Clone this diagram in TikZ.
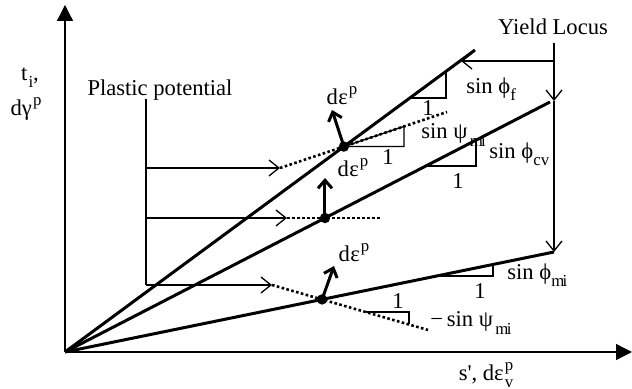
\documentclass[tikz,border=0pt]{standalone}
\usepackage{fontspec}
\setmainfont{Liberation Serif}
\usetikzlibrary{arrows.meta,calc}
\newcommand\tsub[1]{\raisebox{-0.32em}{\fontsize{8.4}{9}\selectfont #1}}
\newcommand\tsup[1]{\raisebox{0.45em}{\fontsize{8.4}{9}\selectfont #1}}
\newcommand\depsp{d\kern0.02em ε\kern0.05em\tsup{p}}
\newcommand\mysin{sin\kern0.25em }
\begin{document}
\begin{tikzpicture}[x=0.5pt,y=-0.5pt,
  thinline/.style={line width=0.65pt},
  boldline/.style={line width=1.5pt},
  dotline/.style={line width=1.3pt, dash pattern=on 1.3pt off 1.2pt},
  openarrow/.style={-{Straight Barb[length=5pt,width=8pt]}},
  axisarrow/.style={thinline,-{Triangle[length=8pt,width=8pt]}},
  strainarrow/.style={boldline,-{Straight Barb[length=4pt,width=7pt]}},
  lbl/.style={font=\fontsize{11.3}{13}\selectfont, inner sep=0pt},
  dot/.style={fill=black}
]
\useasboundingbox (0,0) rectangle (632,389);

% axes
\coordinate (O) at (65,352);
\coordinate (Ytop) at (65,5);
\coordinate (Xend) at (632,352);
\draw[axisarrow] (O) -- (Ytop);
\draw[axisarrow] (O) -- (Xend);

% lines
\coordinate (F) at (475,50);
\coordinate (CV) at (550,102);
\coordinate (MI) at (554,252);
\draw[boldline] (O) -- (F);
\draw[boldline] (O) -- (CV);
\draw[boldline] (O) -- (MI);

% yield locus
\node[lbl] (yl) at (553,27) {Yield Locus};
\coordinate (YT) at (554,43);
\coordinate (YH) at (554,61);
\coordinate (YA) at (554,101);
\coordinate (FH) at (461,61);
\draw[thinline,openarrow] (YT) -- (YA);
\draw[thinline,openarrow] (YA) -- (MI);
\draw[thinline,openarrow] (YH) -- (FH);

% plastic potential
\node[lbl] (pp) at (160,90) {Plastic potential};
\coordinate (PT) at (146,99);
\coordinate (PA) at (146,168);
\coordinate (PB) at (146,218);
\coordinate (PC) at (146,285);
\coordinate (D1a) at (280,168);
\coordinate (D1b) at (447,112);
\coordinate (D2a) at (287,218);
\coordinate (D2b) at (380,218);
\coordinate (D3a) at (272,285);
\coordinate (D3b) at (428,330);
\draw[thinline] (PT) -- (PC);
\draw[thinline,openarrow] (PA) -- (D1a);
\draw[thinline,openarrow] (PB) -- (D2a);
\draw[thinline,openarrow] (PC) -- (D3a);
\draw[dotline] (D1a) -- (D1b);
\draw[dotline] (D2a) -- (D2b);
\draw[dotline] (D3a) -- (D3b);

% points
\coordinate (P1) at (intersection of O--F and D1a--D1b);
\coordinate (P2) at (intersection of O--CV and D2a--D2b);
\coordinate (P3) at (intersection of O--MI and D3a--D3b);
\fill[dot] (P1) circle[radius=2.6pt];
\fill[dot] (P2) circle[radius=2.6pt];
\fill[dot] (P3) circle[radius=2.6pt];

% strain increment arrows
\coordinate (A1) at (332,110);
\coordinate (A2) at ($(P2)+(0,-40)$);
\coordinate (A3) at (334,266);
\draw[strainarrow] (P1) -- (A1);
\draw[strainarrow] (P2) -- (A2);
\draw[strainarrow] (P3) -- (A3);
\node[lbl] (e1) at (342,96) {\depsp};
\node[lbl] (e2) at (353,168) {\depsp};
\node[lbl] (e3) at (354,253) {\depsp};

% slope triangles
\draw[thinline] (409.8,98) -- (446,98) -- (446,71.4);
\node[lbl] (one1) at (428,108) {1};
\node[lbl,anchor=west] (sf) at (466,89) {\mysin ϕ\tsub{f}};

\coordinate (T1) at (404,126.4);
\draw[thinline] (P1) -- (P1 -| T1) -- (T1) -- cycle;
\node[lbl] (one2) at (388,157) {1};
\node[lbl,anchor=west] (spsi) at (421,135) {\mysin ψ\kern0.1em\tsub{m\kern-0.1em i}};

\draw[thinline] (425.8,166) -- (476,166) -- (476,140.1);
\node[lbl] (one3) at (458,181) {1};
\node[lbl,anchor=west] (scv) at (489,154) {\mysin ϕ\tsub{cv}};

\draw[thinline] (436.6,276) -- (493,276) -- (493,264.5);
\node[lbl] (one4) at (480,291) {1};
\node[lbl,anchor=west] (smi) at (507,275) {\mysin ϕ\tsub{m\kern-0.1em i}};

\draw[thinline] (365.6,312) -- (409,312) -- (409,324.5);
\node[lbl] (one5) at (398,301) {1};
\node[lbl,anchor=west] (smpsi) at (430,323) {−\,\mysin ψ\kern0.1em\tsub{m\kern-0.1em i}};

% axis labels
\node[lbl] (tl) at (30,78) {t\kern0.05em\tsub{i},};
\node[lbl] (gl) at (26,109) {dγ\kern0.05em\tsup{p}};
\node[lbl] (sl) at (486,375) {s\textquotesingle, dε\kern0.05em\rlap{\tsup{p}}\tsub{v}};
\end{tikzpicture}
\end{document}
